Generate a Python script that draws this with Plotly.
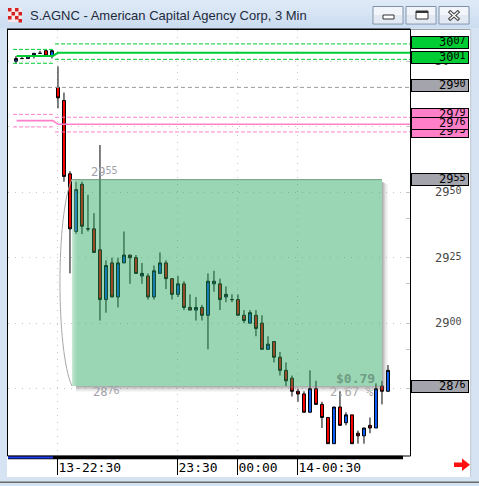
import plotly.graph_objects as go

# ---------------------------------------------------------------------------
# S.AGNC 3-minute bars.  Bar index 0 is the 13-22:30 bar; negative indices are
# the pre-open bars shown to its left.
# ---------------------------------------------------------------------------
bar_idx = list(range(-7, 56))

opens = [30.00, 30.01, 30.01, 30.02, 30.03, 30.04, 30.02,
         29.90, 29.85, 29.57, 29.35, 29.53, 29.36, 29.36, 29.28, 29.09, 29.23,
         29.10, 29.23, 29.26, 29.25, 29.18, 29.18, 29.10, 29.19, 29.23, 29.17,
         29.11, 29.15, 29.06, 29.05, 29.06, 29.03, 29.15, 29.15, 29.10, 29.09,
         29.09, 29.03, 29.00, 29.03, 29.00, 28.90, 28.93, 28.87, 28.82, 28.79,
         28.74, 28.73, 28.66, 28.75, 28.69, 28.64, 28.54, 28.68, 28.62, 28.65,
         28.58, 28.57, 28.61, 28.60, 28.76, 28.74]
highs = [30.02, 30.02, 30.02, 30.03, 30.04, 30.04, 30.04,
         29.98, 29.88, 29.58, 29.54, 29.54, 29.49, 29.42, 29.68, 29.24, 29.25,
         29.25, 29.35, 29.26, 29.26, 29.23, 29.19, 29.22, 29.27, 29.24, 29.17,
         29.18, 29.16, 29.11, 29.10, 29.07, 29.19, 29.20, 29.17, 29.14, 29.11,
         29.11, 29.05, 29.05, 29.05, 29.03, 28.95, 28.93, 28.89, 28.85, 28.80,
         28.75, 28.74, 28.82, 28.78, 28.70, 28.64, 28.68, 28.74, 28.66, 28.65,
         28.59, 28.60, 28.64, 28.77, 28.78, 28.84]
lows = [29.99, 30.01, 30.01, 30.01, 30.03, 30.02, 30.01,
        29.82, 29.54, 29.19, 29.34, 29.34, 29.35, 29.27, 29.01, 29.04, 29.10,
        29.06, 29.23, 29.15, 29.19, 29.15, 29.09, 29.09, 29.19, 29.13, 29.09,
        29.10, 29.05, 29.05, 29.01, 29.01, 28.90, 29.12, 29.05, 29.08, 29.08,
        29.03, 29.00, 29.00, 28.95, 28.90, 28.90, 28.85, 28.80, 28.76, 28.72,
        28.70, 28.66, 28.66, 28.69, 28.60, 28.54, 28.54, 28.61, 28.61, 28.54,
        28.54, 28.54, 28.58, 28.60, 28.69, 28.74]
closes = [30.01, 30.01, 30.02, 30.03, 30.03, 30.02, 30.04,
          29.86, 29.56, 29.36, 29.51, 29.37, 29.36, 29.27, 29.09, 29.22, 29.10,
          29.23, 29.26, 29.25, 29.19, 29.19, 29.10, 29.20, 29.23, 29.17, 29.11,
          29.15, 29.06, 29.05, 29.06, 29.03, 29.16, 29.16, 29.09, 29.11, 29.09,
          29.03, 29.01, 29.04, 28.98, 28.90, 28.92, 28.87, 28.82, 28.78, 28.74,
          28.73, 28.66, 28.75, 28.69, 28.64, 28.54, 28.68, 28.61, 28.65, 28.54,
          28.57, 28.60, 28.60, 28.75, 28.74, 28.82]

# time axis labels (bar index -> label)
time_ticks = [0, 20, 30, 40]
time_labels = ["13-22:30", "23:30", "00:00", "14-00:30"]

# price axis ticks
price_ticks = [28.75, 29.00, 29.25, 29.50, 29.75, 30.00]
price_minor = [28.90, 29.15, 29.40]

# reference levels: previous session (left) and current session (right)
green_prev = [30.045, 30.020, 29.992]   # upper dashed, solid, lower dashed
green_cur = [30.066, 30.032, 30.007]
pink_prev = [29.797, 29.773, 29.749]
pink_cur = [29.786, 29.759, 29.730]
open_level = 29.90

# price-range measurement
measure_x = [2.33, 54.0]
measure_top = 29.55
measure_bottom = 28.76

# ---------------------------------------------------------------------------
W, H = 479, 486
PL, PR, PT, PB = 8, 410, 30, 456
XR = [-8.33, 58.67]
YR = [28.493, 30.119]

UP = "#1060ff"
DOWN = "#ff0000"
GREEN = "#00cc33"
PINK = "#ff80c8"
GRAYBOX = "#a4a4ac"
FRAME = "#d6e3f3"
MONO = "DejaVu Sans Mono"


def sx(px):
    return (px - PL) / (PR - PL)


def sy(py):
    return (PB - py) / (PB - PT)


def to_px_x(k):
    return PL + (k - XR[0]) / (XR[1] - XR[0]) * (PR - PL)


def to_px_y(p):
    return PB - (p - YR[0]) / (YR[1] - YR[0]) * (PB - PT)


shapes = []
annotations = []


def rect(x0, y0, x1, y1, fill=None, line=None, lw=0, layer="above"):
    shapes.append(dict(type="rect", xref="paper", yref="paper",
                       x0=sx(x0), x1=sx(x1), y0=sy(y0), y1=sy(y1),
                       fillcolor=fill or "rgba(0,0,0,0)",
                       line=dict(color=line or "rgba(0,0,0,0)", width=lw),
                       layer=layer))


def path(d_pts, fill=None, line=None, lw=1, layer="above"):
    d = "M " + " L ".join(f"{sx(x):.5f},{sy(y):.5f}" for x, y in d_pts) + " Z"
    shapes.append(dict(type="path", xref="paper", yref="paper", path=d,
                       fillcolor=fill or "rgba(0,0,0,0)",
                       line=dict(color=line or "rgba(0,0,0,0)", width=lw),
                       layer=layer))


def price_str(v):
    """'29' followed by smaller, slightly raised cents digits."""
    s = f"{round(v * 100):d}"
    return (f"{s[:2]}<span style='font-size:10px;baseline-shift:2px'>"
            f"{s[2:]}</span>")


def price_text(v, x, xref, anchor, yshift, color, xshift=0):
    annotations.append(dict(x=x, y=v, xref=xref, yref="y", showarrow=False,
                            xanchor=anchor, yanchor="middle", borderpad=0,
                            text=price_str(v), xshift=xshift, yshift=yshift,
                            font=dict(family=MONO, size=12, color=color)))


fig = go.Figure()

# ---- level lines ----------------------------------------------------------
def level_traces(prev, cur, color, solid_w):
    up_p, mid_p, lo_p = prev
    up_c, mid_c, lo_c = cur
    for a, b in ((up_p, up_c), (lo_p, lo_c)):
        fig.add_trace(go.Scatter(x=[-7.5, -0.85, None, -0.5, XR[1]],
                                 y=[a, a, None, b, b], mode="lines",
                                 line=dict(color=color, width=1, dash="4px,2px"),
                                 hoverinfo="skip", showlegend=False))
    fig.add_trace(go.Scatter(x=[-6.9, -0.85, 0.0, XR[1]],
                             y=[mid_p, mid_p, mid_c, mid_c], mode="lines",
                             line=dict(color=color, width=solid_w),
                             hoverinfo="skip", showlegend=False))


level_traces(green_prev, green_cur, GREEN, 2)
level_traces(pink_prev, pink_cur, PINK, 1.6)
fig.add_trace(go.Scatter(x=[-7.5, XR[1]], y=[open_level, open_level], mode="lines",
                         line=dict(color="#9a9a9a", width=1, dash="4px,3px"),
                         hoverinfo="skip", showlegend=False))

# ---- candles --------------------------------------------------------------
fig.add_trace(go.Candlestick(
    x=bar_idx, open=opens, high=highs, low=lows, close=closes,
    increasing=dict(fillcolor=UP, line=dict(color="black", width=1)),
    decreasing=dict(fillcolor=DOWN, line=dict(color="black", width=1)),
    whiskerwidth=0, showlegend=False, hoverinfo="skip"))

# ---- measurement box ------------------------------------------------------
bx0, bx1 = to_px_x(measure_x[0]), to_px_x(measure_x[1])
by0, by1 = to_px_y(measure_top), to_px_y(measure_bottom)
shapes.append(dict(type="rect", xref="x", yref="y",
                   x0=measure_x[0], x1=measure_x[1], y0=measure_bottom, y1=measure_top,
                   fillcolor="rgba(31,164,89,0.45)", line=dict(width=0), layer="above"))
for i, a in enumerate([0.45, 0.32, 0.22, 0.14, 0.07]):
    rect(bx0 + i, by0 + 1, bx0 + i + 1, by1, fill=f"rgba(255,255,255,{a})")
rect(bx0, by0, bx1, by0 + 1.2, fill="rgba(110,140,120,0.6)")
for i, a in enumerate([0.55, 0.42, 0.30, 0.20, 0.12, 0.06]):
    rect(bx1 + i, by0 + 3 + i * 0.5, bx1 + i + 1, by1 + i + 1, fill=f"rgba(110,110,110,{a})")
    rect(bx0 + 4, by1 + i, bx1 + i, by1 + i + 1, fill=f"rgba(110,110,110,{a})")
c = bx0 - 16
shapes.append(dict(type="path", xref="paper", yref="paper",
                   path=(f"M {sx(bx0):.5f},{sy(by0):.5f} "
                         f"C {sx(c):.5f},{sy(by0 + 35):.5f} {sx(c):.5f},{sy(by1 - 35):.5f} "
                         f"{sx(bx0):.5f},{sy(by1):.5f}"),
                   line=dict(color="#a8a8a8", width=1), layer="above"))

LABEL_GRAY = "#9fa0a8"
price_text(measure_top, measure_x[0], "x", "left", 7, LABEL_GRAY, xshift=18)
price_text(measure_bottom, measure_x[0], "x", "left", -6, LABEL_GRAY, xshift=20)
diff = measure_top - measure_bottom
annotations.append(dict(x=measure_x[1], y=measure_bottom, xref="x", yref="y",
                        text=f"<b>${diff:.2f}</b>", showarrow=False,
                        xanchor="right", yanchor="middle", xshift=-5, yshift=8,
                        font=dict(family=MONO, size=13, color="#6f9c84")))
annotations.append(dict(x=measure_x[1], y=measure_bottom, xref="x", yref="y",
                        text=f"{diff / measure_top * 100:.2f} %", showarrow=False,
                        xanchor="right", yanchor="middle", xshift=-6, yshift=-6,
                        font=dict(family=MONO, size=12, color="#a8a8a8")))

# ---- level / measure price boxes on the axis ------------------------------
axis_marks = [
    (green_cur[0], GREEN, 1), (green_cur[2], GREEN, 2),
    (open_level, GRAYBOX, 1.5),
    (pink_cur[0], PINK, 2.4), (pink_cur[2], PINK, 0.3), (pink_cur[1], PINK, 0.4),
    (measure_top, GRAYBOX, 0), (measure_bottom, GRAYBOX, 0),
]
for v, col, shift in axis_marks:
    annotations.append(dict(x=sx(469), y=v, xref="paper", yref="y", yshift=shift,
                            text="\u00a0", showarrow=False, xanchor="right",
                            yanchor="middle", width=56, height=11,
                            bgcolor=col, bordercolor="black", borderwidth=1, borderpad=0,
                            font=dict(family=MONO, size=10)))
    price_text(v, sx(467), "paper", "right", shift + 0.5, "black")

# ---- window chrome --------------------------------------------------------
rect(0, 0, W, H, fill=FRAME, layer="below")
for i in range(14):
    t = i / 13
    r = int(224 + (204 - 224) * t)
    g = int(234 + (221 - 234) * t)
    b = int(247 + (241 - 247) * t)
    rect(0, i * 2, W, i * 2 + 2, fill=f"rgb({r},{g},{b})", layer="below")
rect(7, 29, 471, 477, fill="white", layer="below")
rect(470, 29, 471.2, 477, fill="#c8ced8", layer="below")
rect(0, 481.5, W, 483, fill="#6a6a6a", layer="below")
rect(7.5, 29.5, 410.5, PB, line="black", lw=1)
rect(410.5, 29, 470, 30, fill="#a0a0a0")
rect(7, 28.6, 410.5, 30, fill="black")
rect(8, 455.7, 403, 459.3, fill="black")
rect(8, 456.6, 53, 458.4, fill="#1e3ce6")
# app icon
rect(8, 8, 22, 22, fill="#f4e8e8")
for (ix, iy) in [(8, 8), (15, 8), (11.5, 12), (18.5, 12), (8, 16), (15, 16), (18.5, 19)]:
    rect(ix, iy, ix + 3.5, iy + 3.5, fill="#d42020")
# caption buttons
for x0 in (373, 406, 439):
    rect(x0, 6.5, x0 + 30, 24, fill="#f2f6fb", line="#7f90aa", lw=1)
    rect(x0 + 1, 15, x0 + 29, 23, fill="#e2e9f3")
rect(383, 15, 394, 19, fill="white", line="#333", lw=1)
rect(416, 11, 428, 19, fill="white", line="#333", lw=1)
rect(416, 11, 428, 13, fill="#333")
for (a, b, c2, d, col, w) in [(449, 11, 459, 20, "#444", 3.5), (449, 20, 459, 11, "#444", 3.5),
                              (449.8, 11.8, 458.2, 19.2, "white", 1.3),
                              (449.8, 19.2, 458.2, 11.8, "white", 1.3)]:
    shapes.append(dict(type="line", xref="paper", yref="paper", x0=sx(a), y0=sy(b),
                       x1=sx(c2), y1=sy(d), line=dict(color=col, width=w)))
# scroll arrow
path([(454, 462.5), (462, 462.5), (462, 458.5), (470, 464.8), (462, 471),
      (462, 467), (454, 467)], fill="#ff1010")

annotations.append(dict(x=sx(28), y=sy(15.5), xref="paper", yref="paper",
                        text="S.AGNC - American Capital Agency Corp, 3 Min",
                        showarrow=False, xanchor="left", yanchor="middle",
                        font=dict(family="Liberation Sans", size=13, color="#1e2a3c")))

fig.update_layout(
    width=W, height=H,
    margin=dict(l=PL, r=W - PR, t=PT, b=H - PB, pad=0),
    paper_bgcolor=FRAME, plot_bgcolor="white",
    shapes=shapes, annotations=annotations,
    xaxis=dict(range=XR, showline=False, zeroline=False, rangeslider=dict(visible=False),
               tickmode="array", tickvals=time_ticks, ticktext=time_labels,
               ticks="outside", ticklen=18, tickcolor="black", tickwidth=1,
               ticklabelposition="outside right", ticklabelstandoff=-1,
               tickfont=dict(family=MONO, size=13, color="black"),
               showgrid=True, gridcolor="#c8c8c8", griddash="1px,6px", gridwidth=1),
    yaxis=dict(range=YR, side="right", showline=False, zeroline=False,
               tickmode="array", tickvals=price_ticks,
               ticktext=[price_str(v) for v in price_ticks],
               ticks="inside", ticklen=4, tickcolor="#c4c4c4",
               ticklabelstandoff=24,
               tickfont=dict(family=MONO, size=12, color="#484848"),
               minor=dict(tickvals=price_minor, ticks="inside", ticklen=4,
                          tickcolor="#c4c4c4", showgrid=False),
               showgrid=True, gridcolor="#c8c8c8", griddash="1px,6px", gridwidth=1),
    boxgap=0.3,
)

fig.write_html("out.html")
